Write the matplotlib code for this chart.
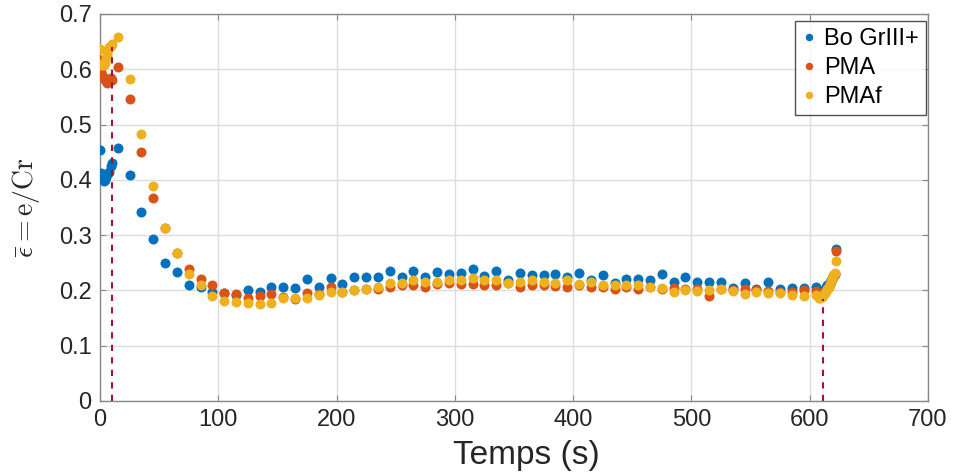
import numpy as np
import matplotlib
matplotlib.use("Agg")
import matplotlib.pyplot as plt

plt.rcParams['font.family'] = ['Liberation Sans', 'DejaVu Sans']
plt.rcParams['mathtext.fontset'] = 'cm'

# ---------------- data ----------------
series_names = ["Bo GrIII+", "PMA", "PMAf"]

t_start = [0, 1, 2, 3, 4, 5, 6, 7, 8, 9, 10]
t_regular = [15, 25, 35, 45, 55, 65, 75, 85, 95, 105,
             115, 125, 135, 145, 155, 165, 175, 185, 195, 205,
             215, 225, 235, 245, 255, 265, 275, 285, 295, 305,
             315, 325, 335, 345, 355, 365, 375, 385, 395, 405,
             415, 425, 435, 445, 455, 465, 475, 485, 495, 505,
             515, 525, 535, 545, 555, 565, 575, 585, 595, 605]
t_end = [608, 609, 610, 611, 612, 613, 614, 615, 616, 617, 618, 619, 620, 621, 622]

blue_start = [0.454, 0.412, 0.410, 0.398, 0.400, 0.405, 0.410, 0.412, 0.415, 0.425, 0.430]
blue_regular = [0.457, 0.409, 0.341, 0.293, 0.249, 0.233, 0.210, 0.207, 0.198, 0.195,
                0.192, 0.200, 0.198, 0.206, 0.206, 0.204, 0.220, 0.206, 0.222, 0.211,
                0.224, 0.224, 0.225, 0.235, 0.224, 0.235, 0.225, 0.233, 0.229, 0.232,
                0.239, 0.226, 0.235, 0.219, 0.232, 0.228, 0.227, 0.229, 0.224, 0.231,
                0.219, 0.228, 0.214, 0.220, 0.220, 0.218, 0.230, 0.215, 0.224, 0.216,
                0.216, 0.216, 0.205, 0.214, 0.203, 0.216, 0.202, 0.205, 0.205, 0.206]
blue_end = [0.200, 0.198, 0.197, 0.198, 0.200, 0.203, 0.206, 0.209, 0.212, 0.215,
            0.218, 0.222, 0.226, 0.230, 0.275]

orange_start = [0.617, 0.595, 0.590, 0.585, 0.580, 0.578, 0.575, 0.580, 0.583, 0.585, 0.580]
orange_regular = [0.605, 0.546, 0.450, 0.368, 0.312, 0.268, 0.238, 0.221, 0.209, 0.195,
                  0.194, 0.186, 0.190, 0.194, 0.188, 0.184, 0.195, 0.193, 0.206, 0.198,
                  0.200, 0.203, 0.203, 0.207, 0.209, 0.209, 0.206, 0.212, 0.213, 0.212,
                  0.212, 0.210, 0.210, 0.213, 0.207, 0.209, 0.209, 0.208, 0.206, 0.210,
                  0.207, 0.207, 0.203, 0.207, 0.202, 0.207, 0.202, 0.205, 0.202, 0.202,
                  0.189, 0.203, 0.200, 0.203, 0.200, 0.199, 0.197, 0.197, 0.200, 0.199]
orange_end = [0.192, 0.190, 0.190, 0.192, 0.195, 0.198, 0.200, 0.203, 0.207, 0.211,
              0.215, 0.220, 0.225, 0.230, 0.271]

yellow_start = [0.636, 0.610, 0.608, 0.607, 0.612, 0.620, 0.626, 0.635, 0.640, 0.642, 0.645]
yellow_regular = [0.658, 0.583, 0.483, 0.388, 0.312, 0.268, 0.230, 0.210, 0.190, 0.181,
                  0.179, 0.178, 0.176, 0.177, 0.186, 0.187, 0.187, 0.192, 0.198, 0.197,
                  0.200, 0.203, 0.207, 0.213, 0.213, 0.218, 0.216, 0.215, 0.218, 0.219,
                  0.223, 0.219, 0.218, 0.213, 0.216, 0.218, 0.216, 0.214, 0.218, 0.211,
                  0.216, 0.209, 0.209, 0.209, 0.210, 0.207, 0.205, 0.198, 0.200, 0.199,
                  0.200, 0.203, 0.199, 0.193, 0.197, 0.195, 0.195, 0.191, 0.190, 0.191]
yellow_end = [0.186, 0.186, 0.188, 0.190, 0.193, 0.196, 0.199, 0.203, 0.207, 0.212,
              0.217, 0.222, 0.227, 0.232, 0.253]

vline_x = [10, 611]
vline_top = [0.64, 0.185]

x_ticks = [0, 100, 200, 300, 400, 500, 600, 700]
y_ticks = [0, 0.1, 0.2, 0.3, 0.4, 0.5, 0.6, 0.7]

colors = ["#0072BD", "#D95319", "#EDB120"]

# ---------------- figure ----------------
fig = plt.figure(figsize=(9.54, 4.76), dpi=100)
ax = fig.add_axes([0.1048, 0.1576, 0.8679, 0.813])

t_all = t_start + t_regular + t_end
ys = [blue_start + blue_regular + blue_end,
      orange_start + orange_regular + orange_end,
      yellow_start + yellow_regular + yellow_end]

for name, y, c in zip(series_names, ys, colors):
    ax.plot(t_all, y, linestyle='none', marker='o', markersize=7.2,
            markeredgewidth=0, color=c, label=name, zorder=3)

for xv, top in zip(vline_x, vline_top):
    ax.plot([xv, xv], [0, top], linestyle=(0, (3, 3)), color="#A2142F",
            linewidth=1.5, zorder=4)

ax.set_xlim(0, 700)
ax.set_ylim(0, 0.7)
ax.set_xticks(x_ticks)
ax.set_yticks(y_ticks)
ax.set_xticklabels([str(v) for v in x_ticks])
ax.set_yticklabels(["0"] + [f"{v:.1f}" for v in y_ticks[1:]])
ax.grid(True, color="#dcdcdc", linewidth=1.0, zorder=0)
ax.set_axisbelow(True)
for s in ax.spines.values():
    s.set_color("#888888")
    s.set_linewidth(1.0)
ax.tick_params(axis='both', direction='in', length=4, width=0.8, color="#888888",
               labelsize=17, labelcolor="#262626", pad=6, top=True, right=True)

ax.set_xlabel("Temps (s)", fontsize=24, color="#262626")
ax.xaxis.set_label_coords(0.515, -0.102)
ax.set_ylabel(r"$\bar{\epsilon}=\mathrm{e}/\mathrm{Cr}$", fontsize=20, color="#262626", labelpad=12)

leg = ax.legend(loc='upper right', bbox_to_anchor=(0.9976, 0.982), fontsize=17,
                markerscale=0.75, handlelength=0.6,
                handletextpad=0.35, borderpad=0.3, labelspacing=0.3,
                borderaxespad=0.0, frameon=True, fancybox=False)
leg.get_frame().set_edgecolor("#262626")
leg.get_frame().set_linewidth(1.0)

fig.savefig("out.png", dpi=100)
